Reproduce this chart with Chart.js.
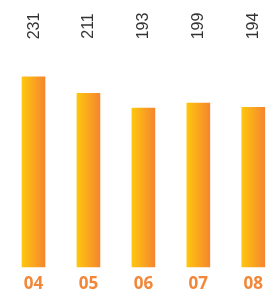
<!DOCTYPE html>
<html>
<head>
<meta charset="utf-8">
<script src="https://cdn.jsdelivr.net/npm/chart.js@4/dist/chart.umd.min.js"></script>
<style>
html,body{margin:0;padding:0;background:#fff;}
#wrap{width:272px;height:293px;position:relative;}
</style>
</head>
<body>
<div id="wrap"><canvas id="c"></canvas></div>
<script>
const categories = ["04", "05", "06", "07", "08"];
const values = [231, 211, 193, 199, 194];
const valueLabels = ["231", "211", "193", "199", "194"];

const BAR_W = 23;

function barGradient(ctx) {
  const chart = ctx.chart;
  const xs = chart.scales && chart.scales.x;
  if (!xs || ctx.dataIndex === undefined) return '#F9A521';
  const cx = xs.getPixelForValue(ctx.dataIndex);
  if (!isFinite(cx)) return '#F9A521';
  const g = chart.ctx.createLinearGradient(cx - BAR_W / 2, 0, cx + BAR_W / 2, 0);
  g.addColorStop(0, '#FEC60E');
  g.addColorStop(1, '#F5862F');
  return g;
}

const valueLabelPlugin = {
  id: 'valueLabels',
  afterDatasetsDraw(chart) {
    const meta = chart.getDatasetMeta(0);
    const c = chart.ctx;
    meta.data.forEach((bar, i) => {
      c.save();
      c.translate(bar.x + 5, 26);
      c.rotate(-Math.PI / 2);
      c.font = '16px "Liberation Sans", Arial, sans-serif';
      c.fillStyle = '#333333';
      c.textAlign = 'center';
      c.textBaseline = 'alphabetic';
      c.fillText(valueLabels[i], 0, 0);
      c.restore();
    });
  }
};

new Chart(document.getElementById('c'), {
  type: 'bar',
  data: {
    labels: categories,
    datasets: [{
      data: values,
      backgroundColor: barGradient,
      barThickness: BAR_W,
      borderWidth: 0,
      clip: false
    }]
  },
  options: {
    responsive: true,
    maintainAspectRatio: false,
    animation: false,
    layout: { padding: { left: 33.5, right: 18.5, top: 20, bottom: 0 } },
    plugins: { legend: { display: false }, tooltip: { enabled: false } },
    scales: {
      x: {
        offset: false,
        afterFit(scale) { scale.height = 26; },
        grid: { display: false, drawTicks: false, offset: false },
        border: { display: false },
        ticks: {
          padding: 9,
          maxRotation: 0,
          autoSkip: false,
          color: '#F2873A',
          font: { family: '"Open Sans", sans-serif', size: 17, weight: 'bold', lineHeight: 1 }
        }
      },
      y: {
        display: false,
        min: 0,
        max: 300
      }
    }
  },
  plugins: [valueLabelPlugin]
});
</script>
</body>
</html>
